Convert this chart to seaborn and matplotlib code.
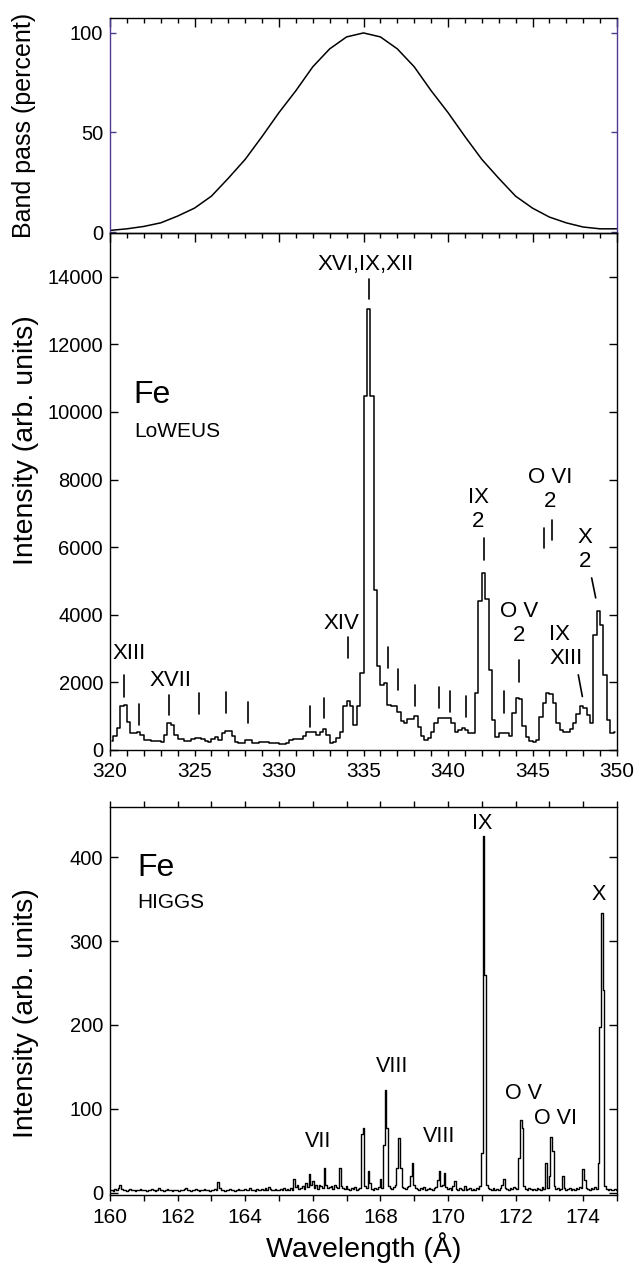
import numpy as np
import matplotlib
matplotlib.use("Agg")
import matplotlib.pyplot as plt
from matplotlib.ticker import MultipleLocator
import seaborn as sns

# --- band pass of the LoWEUS filter, percent, 1 A steps from 320 to 350 ---
bp_wavelength = np.arange(320, 351)
bp_percent = [0.8, 1.6, 2.8, 4.6, 8.0, 12, 18, 27, 36.5, 48,
              60, 71, 83, 92, 98, 100, 98, 92, 83, 71,
              60, 48, 36.5, 27, 18, 12, 7.5, 4.6, 2.5, 1.6, 1.6]

# --- LoWEUS spectrum, 0.2 A bins, centres 320.1 ... 349.9 ---
loweus_wavelength = 320.1 + 0.2 * np.arange(150)
loweus_counts = [
    260, 420, 640, 1300, 1320, 840, 510, 500, 530, 450,
    300, 280, 275, 250, 265, 245, 440, 790, 740, 450,
    320, 310, 250, 275, 315, 365, 360, 325, 265, 245,
    315, 375, 300, 510, 575, 570, 415, 245, 200, 200,
    290, 290, 215, 220, 235, 240, 235, 200, 195, 195,
    185, 170, 220, 296, 320, 326, 330, 425, 540, 545,
    543, 444, 540, 612, 440, 198, 247, 346, 520, 1290,
    1450, 1290, 740, 1290, 2270, 10470, 13060, 10470, 4740, 2470,
    1930, 1995, 1333, 1304, 1304, 1136, 869, 810, 909, 909,
    1007, 691, 415, 296, 346, 543, 790, 958, 958, 958,
    938, 810, 543, 593, 642, 600, 500, 494, 1680, 4395,
    5235, 4464, 2370, 889, 395, 514, 500, 514, 415, 1086,
    1531, 1500, 700, 395, 267, 227, 300, 988, 1383, 1679,
    1660, 1383, 800, 593, 543, 543, 612, 810, 1067, 1290,
    1240, 1037, 810, 3407, 4099, 3704, 2222, 889, 494, 540]

# --- HIGGS spectrum, 0.05 A steps from 160.00 to 175.00 ---
higgs_wavelength = 160.0 + 0.05 * np.arange(301)
higgs_counts = [
    3, 4, 2, 5, 3, 6, 9, 5, 3, 4, 2, 3, 5, 4, 3, 2, 4, 3, 5, 3,
    4, 3, 2, 4, 3, 5, 3, 2, 4, 6, 3, 4, 2, 3, 5, 3, 4, 2, 3, 4,
    3, 2, 4, 3, 5, 6, 3, 4, 2, 3, 4, 5, 3, 2, 4, 3, 5, 4, 3, 2,
    4, 3, 5, 4, 13, 6, 3, 4, 2, 4, 3, 5, 4, 3, 2, 4, 5, 3, 4, 3,
    5, 3, 4, 6, 3, 4, 2, 5, 3, 4, 5, 3, 6, 4, 7, 5, 3, 4, 5, 4,
    3, 5, 4, 6, 4, 5, 3, 6, 4, 16, 7, 10, 5, 6, 8, 5, 12, 7, 23, 9,
    14, 6, 9, 5, 10, 8, 6, 30, 9, 6, 7, 8, 5, 9, 7, 6, 30, 8, 6, 5,
    8, 5, 4, 6, 5, 7, 4, 5, 6, 70, 77, 8, 6, 26, 12, 5, 4, 6, 5, 7,
    17, 6, 57, 123, 77, 8, 6, 5, 7, 9, 30, 65, 30, 7, 6, 5, 7, 8, 20, 36,
    10, 6, 5, 4, 6, 5, 7, 4, 5, 6, 5, 4, 6, 7, 15, 26, 8, 10, 24, 7,
    5, 6, 4, 8, 14, 5, 4, 6, 5, 3, 8, 4, 5, 6, 4, 5, 3, 6, 5, 8,
    48, 425, 260, 10, 6, 5, 4, 6, 3, 5, 4, 6, 10, 17, 6, 5, 4, 6, 5, 7,
    6, 5, 42, 87, 77, 8, 5, 4, 6, 5, 3, 5, 4, 6, 5, 4, 7, 5, 36, 6,
    20, 67, 50, 8, 5, 6, 4, 5, 20, 6, 4, 5, 6, 4, 5, 3, 6, 5, 7, 6,
    29, 15, 6, 5, 4, 6, 5, 7, 5, 36, 198, 333, 242, 8, 5, 4, 5, 3, 4, 5,
    4]

# line identification marks in the LoWEUS panel (top and bottom end of each tick)
mark_x_top = [320.83, 321.72, 323.5, 325.27, 326.84, 328.15, 331.83, 332.66, 334.08,
              335.3, 336.47, 337.06, 338.05, 339.47, 340.14, 341.06, 342.13, 343.33,
              344.2, 345.68, 346.17, 347.71, 348.5]
mark_x_bot = [320.83, 321.72, 323.5, 325.27, 326.84, 328.15, 331.83, 332.66, 334.08,
              335.3, 336.47, 337.06, 338.05, 339.47, 340.14, 341.06, 342.13, 343.33,
              344.2, 345.68, 346.17, 347.95, 348.74]
mark_y_top = [2222, 1363, 1630, 1689, 1719, 1422, 1304, 1540, 3330,
              13926, 3042, 2390, 1926, 1857, 1750, 1600, 6272, 1748,
              2647, 6568, 6815, 2222, 5090]
mark_y_bot = [1570, 741, 1037, 1067, 1096, 800, 681, 948, 2710,
              13333, 2420, 1778, 1314, 1235, 1136, 988, 5630, 1106,
              2025, 5975, 6222, 1580, 4500]

loweus_labels = ["XIII", "XVII", "XIV", "XVI,IX,XII", "IX\n2", "O VI\n2", "X\n2", "O V\n2"]
loweus_label_x = [321.14, 323.55, 333.71, 335.12, 341.8, 346.05, 348.1, 344.2]
loweus_label_y = [2864, 2054, 3753, 14370, 7111, 7704, 5926, 3733]

higgs_labels = ["VII", "VIII", "VIII", "IX", "O V", "O VI", "X"]
higgs_label_x = [166.15, 168.35, 169.73, 171.0, 172.24, 173.18, 174.46]
higgs_label_y = [61, 151, 67, 440, 119, 89, 355]

sns.set_theme(style="ticks")
plt.rcParams["font.family"] = ["Liberation Sans", "DejaVu Sans"]
plt.rcParams["axes.linewidth"] = 1.0
for key in ("text.color", "axes.labelcolor", "xtick.color", "ytick.color",
            "xtick.labelcolor", "ytick.labelcolor", "axes.edgecolor"):
    plt.rcParams[key] = "black"

purple = "#4e3a8e"
tick_fs = 14.5
label_fs = 18
big_label_fs = 20.5
note_fs = 16

fig = plt.figure(figsize=(6.37, 12.67), dpi=100)
ax_bp = fig.add_axes([0.1727, 0.8161, 0.7959, 0.1697])
ax_lo = fig.add_axes([0.1727, 0.4081, 0.7959, 0.4081])
ax_hi = fig.add_axes([0.1727, 0.0568, 0.7959, 0.3062])

# ---- band pass ----
sns.lineplot(x=bp_wavelength, y=bp_percent, ax=ax_bp, color="black", lw=1.1)
ax_bp.set_xlim(320, 350)
ax_bp.set_ylim(-0.5, 107.5)
ax_bp.set_yticks([0, 50, 100])
ax_bp.xaxis.set_major_locator(MultipleLocator(5))
ax_bp.xaxis.set_minor_locator(MultipleLocator(1))
ax_bp.tick_params(axis="x", which="both", direction="in", top=True, bottom=False,
                  labelbottom=False)
ax_bp.tick_params(axis="x", which="major", length=6.5, width=1)
ax_bp.tick_params(axis="x", which="minor", length=3.5, width=1)
ax_bp.tick_params(axis="y", direction="in", left=True, right=True, length=4.5,
                  width=1, color=purple, labelsize=tick_fs, pad=5)
for side in ("left", "right"):
    ax_bp.spines[side].set_color(purple)
ax_bp.spines["bottom"].set_visible(False)
ax_bp.set_ylabel("Band pass (percent)", fontsize=label_fs)
ax_bp.yaxis.set_label_coords(-0.145, 0.5)

# ---- LoWEUS ----
sns.lineplot(x=loweus_wavelength, y=loweus_counts, ax=ax_lo, color="black",
             lw=1.1, drawstyle="steps-mid", errorbar=None)
for xa, xb, ya, yb in zip(mark_x_top, mark_x_bot, mark_y_top, mark_y_bot):
    ax_lo.plot([xa, xb], [ya, yb], color="black", lw=1.2)
for txt, xx, yy in zip(loweus_labels, loweus_label_x, loweus_label_y):
    ax_lo.text(xx, yy, txt, ha="center", va="center", fontsize=note_fs,
               linespacing=1.2)
ax_lo.text(345.98, 3062, "IX\nXIII", ha="left", va="center", fontsize=note_fs,
           linespacing=1.2)
ax_lo.text(0.047, 0.686, "Fe", transform=ax_lo.transAxes, fontsize=23,
           ha="left", va="center")
ax_lo.text(0.047, 0.616, "LoWEUS", transform=ax_lo.transAxes, fontsize=15,
           ha="left", va="center")
ax_lo.set_xlim(320, 350)
ax_lo.set_ylim(0, 15300)
ax_lo.yaxis.set_major_locator(MultipleLocator(2000))
ax_lo.xaxis.set_major_locator(MultipleLocator(5))
ax_lo.xaxis.set_minor_locator(MultipleLocator(1))
ax_lo.tick_params(axis="y", direction="in", left=True, right=True, length=6,
                  width=1, labelsize=tick_fs, pad=5)
ax_lo.tick_params(axis="x", which="both", direction="out", bottom=True, top=False,
                  length=4, width=1, labelsize=tick_fs + 0.5, pad=5)
sec = ax_lo.secondary_xaxis("top")
sec.xaxis.set_major_locator(MultipleLocator(5))
sec.xaxis.set_minor_locator(MultipleLocator(1))
sec.tick_params(axis="x", which="both", direction="in", labeltop=False, width=1)
sec.tick_params(axis="x", which="major", length=6.5)
sec.tick_params(axis="x", which="minor", length=3.5)
ax_lo.set_ylabel("Intensity (arb. units)", fontsize=big_label_fs)
ax_lo.yaxis.set_label_coords(-0.14, 0.60)

# ---- HIGGS ----
sns.lineplot(x=higgs_wavelength, y=higgs_counts, ax=ax_hi, color="black",
             lw=1.0, drawstyle="steps-mid", errorbar=None)
for txt, xx, yy in zip(higgs_labels, higgs_label_x, higgs_label_y):
    ax_hi.text(xx, yy, txt, ha="center", va="center", fontsize=note_fs - 0.5)
ax_hi.text(0.053, 0.843, "Fe", transform=ax_hi.transAxes, fontsize=23,
           ha="left", va="center")
ax_hi.text(0.053, 0.755, "HIGGS", transform=ax_hi.transAxes, fontsize=15,
           ha="left", va="center")
ax_hi.set_xlim(160, 175)
ax_hi.set_ylim(-2.5, 459.5)
ax_hi.set_yticks([0, 100, 200, 300, 400])
ax_hi.xaxis.set_major_locator(MultipleLocator(2))
ax_hi.xaxis.set_minor_locator(MultipleLocator(1))
ax_hi.tick_params(axis="x", which="both", direction="out", top=True, bottom=True,
                  length=4, width=1, labelsize=tick_fs + 0.5, pad=5)
ax_hi.tick_params(axis="y", direction="in", left=True, right=True, length=6,
                  width=1, labelsize=tick_fs, pad=5)
ax_hi.set_ylabel("Intensity (arb. units)", fontsize=big_label_fs)
ax_hi.yaxis.set_label_coords(-0.14, 0.47)
ax_hi.set_xlabel("Wavelength (Å)", fontsize=big_label_fs, labelpad=4)

fig.savefig("out.png", dpi=100, facecolor="white")
plt.close(fig)
